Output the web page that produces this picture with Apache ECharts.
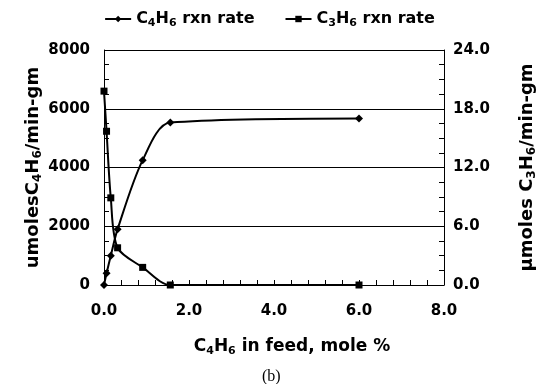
<!DOCTYPE html>
<html>
<head>
<meta charset="utf-8">
<script src="https://cdn.jsdelivr.net/npm/echarts@6/dist/echarts.min.js"></script>
<style>
  html, body { margin: 0; padding: 0; background: #fff; }
  #chart { width: 539px; height: 384px; }
</style>
</head>
<body>
<div id="chart"></div>
<script>
const xFeed = [0, 0.06, 0.16, 0.32, 0.91, 1.56, 6.0];
const c4h6Rate = [0, 400, 1000, 1900, 4250, 5530, 5670];
const c3h6Rate = [19.8, 15.7, 8.9, 3.8, 1.8, 0, 0];
const xTicks = ['0.0', '2.0', '4.0', '6.0', '8.0'];

const font = 'DejaVu Sans';

const sub = {
  n: { fontFamily: font, fontWeight: 'bold', fontSize: 16, color: '#000' },
  s: { fontFamily: font, fontWeight: 'bold', fontSize: 11, color: '#000', padding: [9, 0, 0, 0] }
};
const subBig = {
  n: { fontFamily: font, fontWeight: 'bold', fontSize: 18, color: '#000' },
  s: { fontFamily: font, fontWeight: 'bold', fontSize: 12, color: '#000', padding: [10, 0, 0, 0] }
};

function pairs(ys) {
  return xFeed.map((x, i) => [x, ys[i]]);
}

const chart = echarts.init(document.getElementById('chart'));

chart.setOption({
  animation: false,
  backgroundColor: '#fff',
  grid: { left: 104, right: 95, top: 50, bottom: 99, containLabel: false, outerBoundsMode: 'none' },
  title: {
    text: '(b)',
    left: 257,
    top: 364,
    textStyle: { fontFamily: 'Liberation Serif', fontWeight: 'normal', fontSize: 16, color: '#000' }
  },
  legend: {
    top: 6,
    left: 'center',
    itemWidth: 26,
    itemHeight: 8,
    itemGap: 30,
    formatter: function (name) {
      if (name === 'C4H6 rxn rate') return '{n|C}{s|4}{n|H}{s|6}{n| rxn rate}';
      return '{n|C}{s|3}{n|H}{s|6}{n| rxn rate}';
    },
    textStyle: { rich: sub }
  },
  xAxis: {
    type: 'value',
    min: 0,
    max: 8,
    interval: 2,
    name: '{n|C}{s|4}{n|H}{s|6}{n| in feed, mole %}',
    nameLocation: 'middle',
    nameGap: 52,
    nameMoveOverlap: false,
    nameTextStyle: { padding: [0, 0, 0, 36], rich: { n: Object.assign({}, sub.n, { fontSize: 17 }), s: sub.s } },
    axisLine: { lineStyle: { color: '#000', width: 1 } },
    axisTick: { inside: true, length: 5, lineStyle: { color: '#000' } },
    minorTick: { show: true, splitNumber: 5, length: 5, lineStyle: { color: '#000' } },
    splitLine: { show: false },
    axisLabel: {
      margin: 19,
      formatter: v => xTicks[v / 2],
      fontFamily: font, fontWeight: 'bold', fontSize: 15, color: '#000'
    }
  },
  yAxis: [
    {
      type: 'value',
      min: 0,
      max: 8000,
      interval: 2000,
      name: '{n|umolesC}{s|4}{n|H}{s|6}{n|/min-gm}',
      nameLocation: 'middle',
      nameRotate: 90,
      nameGap: 60,
      nameMoveOverlap: false,
      nameTextStyle: { rich: subBig },
      axisLine: { show: true, lineStyle: { color: '#000', width: 1 } },
      axisTick: { show: true, inside: true, length: 5, lineStyle: { color: '#000' } },
      minorTick: { show: true, splitNumber: 4, length: 5, lineStyle: { color: '#000' } },
      splitLine: { show: true, lineStyle: { color: '#000', width: 1 } },
      axisLabel: {
        margin: 14,
        formatter: v => String(v),
        fontFamily: font, fontWeight: 'bold', fontSize: 15, color: '#000'
      }
    },
    {
      type: 'value',
      min: 0,
      max: 24,
      interval: 6,
      position: 'right',
      name: '{n|μmoles C}{s|3}{n|H}{s|6}{n|/min-gm}',
      nameLocation: 'middle',
      nameRotate: 90,
      nameGap: 72,
      nameMoveOverlap: false,
      nameTextStyle: { rich: subBig },
      axisLine: { show: true, lineStyle: { color: '#000', width: 1 } },
      axisTick: { show: true, inside: true, length: 5, lineStyle: { color: '#000' } },
      minorTick: { show: true, splitNumber: 4, length: 5, lineStyle: { color: '#000' } },
      splitLine: { show: false },
      axisLabel: {
        margin: 9,
        formatter: v => v.toFixed(1),
        fontFamily: font, fontWeight: 'bold', fontSize: 15, color: '#000'
      }
    }
  ],
  series: [
    {
      name: 'C4H6 rxn rate',
      type: 'line',
      yAxisIndex: 0,
      data: pairs(c4h6Rate),
      smooth: 0.3,
      symbol: 'diamond',
      symbolSize: 8,
      itemStyle: { color: '#000' },
      lineStyle: { color: '#000', width: 2 }
    },
    {
      name: 'C3H6 rxn rate',
      type: 'line',
      yAxisIndex: 1,
      data: pairs(c3h6Rate),
      smooth: 0.3,
      symbol: 'rect',
      symbolSize: 7,
      itemStyle: { color: '#000' },
      lineStyle: { color: '#000', width: 2 }
    }
  ]
});
</script>
</body>
</html>
